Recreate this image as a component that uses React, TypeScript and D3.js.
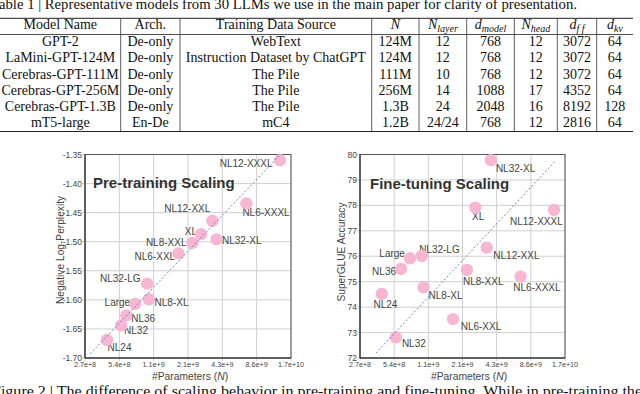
import React from "react";
import * as d3 from "d3";

// ---------- Table data ----------
const tableModels = ["GPT-2", "LaMini-GPT-124M", "Cerebras-GPT-111M", "Cerebras-GPT-256M", "Cerebras-GPT-1.3B", "mT5-large"];
const tableArch = ["De-only", "De-only", "De-only", "De-only", "De-only", "En-De"];
const tableSource = ["WebText", "Instruction Dataset by ChatGPT", "The Pile", "The Pile", "The Pile", "mC4"];
const tableN = ["124M", "124M", "111M", "256M", "1.3B", "1.2B"];
const tableNLayer = ["12", "12", "10", "14", "24", "24/24"];
const tableDModel = ["768", "768", "768", "1088", "2048", "768"];
const tableNHead = ["12", "12", "12", "17", "16", "12"];
const tableDff = ["3072", "3072", "3072", "4352", "8192", "2816"];
const tableDkv = ["64", "64", "64", "64", "128", "64"];

// ---------- Scatter data ----------
const models = ["NL24", "NL32", "NL36", "Large", "NL32-LG", "NL8-XL", "NL6-XXL", "NL8-XXL", "XL", "NL12-XXL", "NL32-XL", "NL6-XXXL", "NL12-XXXL"];
const params = [4.18e8, 5.56e8, 6.17e8, 7.39e8, 9.41e8, 9.75e8, 1.77e9, 2.35e9, 2.79e9, 3.51e9, 3.82e9, 6.98e9, 1.376e10];
const pretrainScore = [-1.669, -1.644, -1.627, -1.607, -1.572, -1.599, -1.52, -1.502, -1.487, -1.464, -1.496, -1.434, -1.36];
const finetuneScore = [74.52, 72.81, 75.5, 75.92, 76.01, 74.78, 73.53, 75.46, 77.91, 76.34, 79.78, 75.2, 77.82];

const pretrainTrendN = [2.97e8, 1.357e10];
const pretrainTrendV = [-1.693, -1.352];
const finetuneTrendN = [3.71e8, 1.396e10];
const finetuneTrendV = [72.19, 79.72];

const xTicks = [2 ** 28, 2 ** 29, 2 ** 30, 2 ** 31, 2 ** 32, 2 ** 33, 2 ** 34];
const pretrainYTicks = [-1.7, -1.65, -1.6, -1.55, -1.5, -1.45, -1.4, -1.35];
const finetuneYTicks = [72, 73, 74, 75, 76, 77, 78, 79, 80];

// label layout (dx, dy, anchor) relative to the point
const preLabelLayout: [number, number, string][] = [
  [0.6, 11, "start"], [3, 8.7, "start"], [5, 6.7, "start"], [-5, 2, "end"], [-6.6, -1.6, "end"],
  [5.7, 6.4, "start"], [-3.3, 6.7, "end"], [-6, 3, "end"], [-4, 1, "end"], [-2, -9, "end"],
  [5.5, 5, "start"], [-4, 13, "start"], [-7.5, 6.7, "end"],
];
const ftLabelLayout: [number, number, string][] = [
  [-8.3, 13.7, "start"], [6, 9.4, "start"], [-5, 6, "end"], [-5, -1, "end"], [-2.7, -2.7, "start"],
  [5, 12, "start"], [7.7, 11, "start"], [-4, 15, "start"], [-3.3, 12.3, "start"], [6.6, 11.6, "start"],
  [5, 12.3, "start"], [-7.3, 14.3, "start"], [8.7, 15, "end"],
];

const SANS = "'Liberation Sans', Arial, sans-serif";
const SERIF = "'Liberation Serif', 'Times New Roman', serif";

type PanelProps = {
  x0: number; x1: number; y0: number; y1: number;
  yDomain: [number, number]; yTicks: number[]; yFmt: (v: number) => string;
  values: number[]; trendN: number[]; trendV: number[];
  layout: [number, number, string][];
  title: string; titleX: number; titleY: number;
  yLabel: string; yLabelX: number; yLabelY: number; xLabelX: number;
};

function Panel(p: PanelProps) {
  const x = d3.scaleLog().base(2).domain([2 ** 28, 2 ** 34]).range([p.x0, p.x1]);
  const y = d3.scaleLinear().domain(p.yDomain).range([p.y1, p.y0]);
  const xf = d3.format(".1e");
  const line = d3.line<number>().x((_, i) => x(p.trendN[i])).y((v) => y(v));
  return (
    <g>
      {xTicks.map((t, i) => (
        <line key={"gx" + i} x1={x(t)} x2={x(t)} y1={p.y0} y2={p.y1 + 3} stroke="#cfcfcf" strokeWidth={1} />
      ))}
      {p.yTicks.map((t, i) => (
        <line key={"gy" + i} x1={p.x0 - 3} x2={p.x1} y1={y(t)} y2={y(t)} stroke="#cfcfcf" strokeWidth={1} />
      ))}
      <rect x={p.x0} y={p.y0} width={p.x1 - p.x0} height={p.y1 - p.y0} fill="none" stroke="#555" strokeWidth={1} />
      <line x1={p.x0} x2={p.x0} y1={p.y0} y2={p.y1} stroke="#222" strokeWidth={1} />
      <line x1={p.x0} x2={p.x1} y1={p.y1} y2={p.y1} stroke="#222" strokeWidth={1} />
      {p.yTicks.map((t, i) => (
        <text key={"ty" + i} x={p.x0 - 3} y={y(t) + 3} textAnchor="end" fontSize={8.5} fontFamily={SANS} fill="#444">{p.yFmt(t)}</text>
      ))}
      {xTicks.map((t, i) => (
        <text key={"tx" + i} x={x(t)} y={p.y1 + 9} textAnchor="middle" fontSize={7.2} fontFamily={SANS} fill="#444">{xf(t)}</text>
      ))}
      <text x={p.titleX} y={p.titleY} fontSize={15} fontWeight="bold" fontFamily={SANS} fill="#333">{p.title}</text>
      {models.map((m, i) => (
        <text key={"l" + i} x={x(params[i]) + p.layout[i][0]} y={y(p.values[i]) + p.layout[i][1]}
          textAnchor={p.layout[i][2] as any} fontSize={10} fontFamily={SANS} fill="#444">{m}</text>
      ))}
      {models.map((m, i) => (
        <circle key={"c" + i} cx={x(params[i])} cy={y(p.values[i])} r={6.2} fill="#f7b6d2" />
      ))}
      <path d={line(p.trendV) || ""} fill="none" stroke="#6a6fd0" strokeWidth={0.9} strokeDasharray="2,2" />
      <text transform={`translate(${p.yLabelX},${p.yLabelY}) rotate(-90)`} textAnchor="middle" fontSize={10.2} fontFamily={SANS} fill="#444">{p.yLabel}</text>
      <text x={p.xLabelX} y={380} textAnchor="middle" fontSize={10.3} fontFamily={SANS} fill="#444">
        #Parameters (<tspan fontStyle="italic">N</tspan>)
      </text>
    </g>
  );
}

export default function App() {
  const colX = [0, 120.7, 180, 371.7, 419, 466.7, 514.3, 557.3, 596.7, 633];
  const center = (i: number) => (colX[i] + colX[i + 1]) / 2;
  const rowY = (i: number) => 45.9 + 16.3 * i;
  const cols = [tableModels, tableArch, tableSource, tableN, tableNLayer, tableDModel, tableNHead, tableDff, tableDkv];
  const sub = (main: string, s: string) => (
    <>
      <tspan fontStyle="italic">{main}</tspan>
      <tspan fontStyle="italic" fontSize={10} dy={3}>{s}</tspan>
    </>
  );
  const headers: React.ReactNode[] = [
    "Model Name", "Arch.", "Training Data Source",
    <tspan fontStyle="italic">N</tspan>,
    sub("N", "layer"), sub("d", "model"), sub("N", "head"), sub("d", "f f"), sub("d", "kv"),
  ];
  return (
    <svg width={640} height={394} style={{ position: "absolute", left: 0, top: 0, background: "#fff" }}>
      <rect width={640} height={394} fill="#fff" />
      <text x={-9} y={8.5} fontSize={14} fontFamily={SERIF} fill="#111" textLength={586} lengthAdjust="spacingAndGlyphs">
        Table 1 | Representative models from 30 LLMs we use in the main paper for clarity of presentation.
      </text>
      <line x1={0} x2={633} y1={18.3} y2={18.3} stroke="#222" strokeWidth={1} />
      <line x1={0} x2={633} y1={34.5} y2={34.5} stroke="#222" strokeWidth={0.8} />
      <line x1={0} x2={633} y1={131.5} y2={131.5} stroke="#222" strokeWidth={1} />
      {colX.slice(1, -1).map((cx, i) => (
        <line key={"v" + i} x1={cx} x2={cx} y1={18.3} y2={131.5} stroke="#333" strokeWidth={0.8} />
      ))}
      {headers.map((h, i) => (
        <text key={"h" + i} x={center(i)} y={29.3} textAnchor="middle" fontSize={14} fontFamily={SERIF} fill="#111">{h}</text>
      ))}
      {cols.map((col, ci) =>
        col.map((v, ri) => (
          <text key={ci + "-" + ri} x={center(ci)} y={rowY(ri)} textAnchor="middle" fontSize={14} fontFamily={SERIF} fill="#111">{v}</text>
        ))
      )}
      <Panel x0={85} x1={291} y0={154.5} y1={358} yDomain={[-1.7, -1.35]} yTicks={pretrainYTicks}
        yFmt={(v) => v.toFixed(2)} values={pretrainScore} trendN={pretrainTrendN} trendV={pretrainTrendV}
        layout={preLabelLayout} title="Pre-training Scaling" titleX={93} titleY={188}
        yLabel="Negative Log-Perplexity" yLabelX={64} yLabelY={250} xLabelX={190} />
      <Panel x0={360} x1={565} y0={154.5} y1={358} yDomain={[72, 80]} yTicks={finetuneYTicks}
        yFmt={(v) => String(v)} values={finetuneScore} trendN={finetuneTrendN} trendV={finetuneTrendV}
        layout={ftLabelLayout} title="Fine-tuning Scaling" titleX={370} titleY={189}
        yLabel="SuperGLUE Accuracy" yLabelX={345} yLabelY={252} xLabelX={469} />
      <text x={-8} y={396} fontSize={14} fontFamily={SERIF} fill="#111" textLength={650} lengthAdjust="spacingAndGlyphs">
        Figure 2 | The difference of scaling behavior in pre-training and fine-tuning. While in pre-training the
      </text>
    </svg>
  );
}
